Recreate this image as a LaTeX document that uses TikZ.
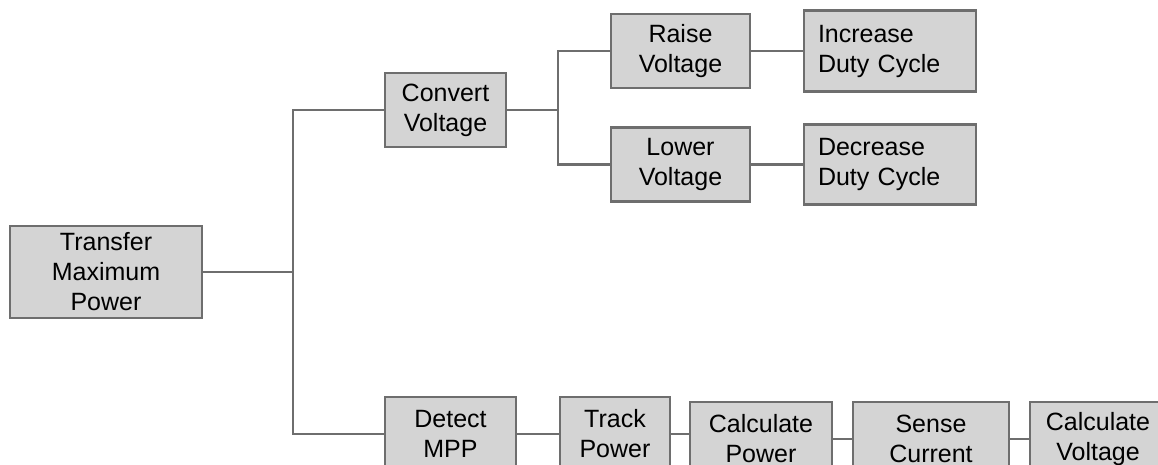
\documentclass[tikz,border=0pt]{standalone}
\usepackage{fontspec}
\setmainfont{Liberation Sans}
\usepackage{tikz}
\usetikzlibrary{positioning,calc}
\usepackage{xcolor}
\definecolor{boxfill}{HTML}{D4D4D4}
\definecolor{boxline}{HTML}{6E6E6E}
\definecolor{wire}{HTML}{6E6E6E}

\begin{document}
\begin{tikzpicture}[
    x=0.5pt, y=-0.5pt,
    blk/.style={draw=boxline, line width=1.4pt, fill=boxfill, align=center, inner sep=0pt,
        font=\fontsize{12.5}{15}\selectfont, minimum height=37pt},
    lblk/.style={blk, align=left, text width=72pt, inner sep=7pt, minimum height=37pt},
    wire/.style={draw=wire, line width=1.2pt},
]
\clip (0,0) rectangle (1158,465);

\node[blk, minimum width=96pt, minimum height=46pt] (tmp) at (106,272) {Transfer\\Maximum\\Power};

\node[blk, minimum width=60.5pt] (conv) at (445.5,110) {Convert\\Voltage};
\node[blk, minimum width=69.5pt] (raise) at (680.5,51) {Raise\\Voltage};
\node[blk, minimum width=69.5pt] (lower) at (680.5,164.5) {Lower\\Voltage};
\node[lblk] (inc) at (890,51) {Increase\\Duty Cycle};
\node[lblk] (dec) at (890,164.5) {Decrease\\Duty Cycle};

\node[blk, minimum width=65.5pt] (detect) at (450.5,434) {Detect\\MPP};
\node[blk, minimum width=55pt] (track) at (615,434) {Track\\Power};
\node[blk, minimum width=71pt] (calcp) at (761,439) {Calculate\\Power};
\node[blk, minimum width=78pt] (sense) at (931,439) {Sense\\Current};
\node[blk, minimum width=68pt] (calcv) at (1098,439) {Calculate\\Voltage};

\coordinate (trunk) at (293,272);
\coordinate (fork) at (558,110);

\draw[wire] (tmp.east) -- (trunk);
\draw[wire] (conv.west) -| (trunk);
\draw[wire] (detect.west) -| (trunk);
\draw[wire] (conv.east) -- (fork);
\draw[wire] (raise.west) -| (fork);
\draw[wire] (lower.west) -| (fork);
\draw[wire] (raise.east) -- (inc.west);
\draw[wire] (lower.east) -- (dec.west);
\draw[wire] (detect.east) -- (track.west);
\draw[wire] (track.east) -- (track.east -| calcp.west);
\draw[wire] (calcp.east) -- (sense.west);
\draw[wire] (sense.east) -- (calcv.west);

\end{tikzpicture}
\end{document}
